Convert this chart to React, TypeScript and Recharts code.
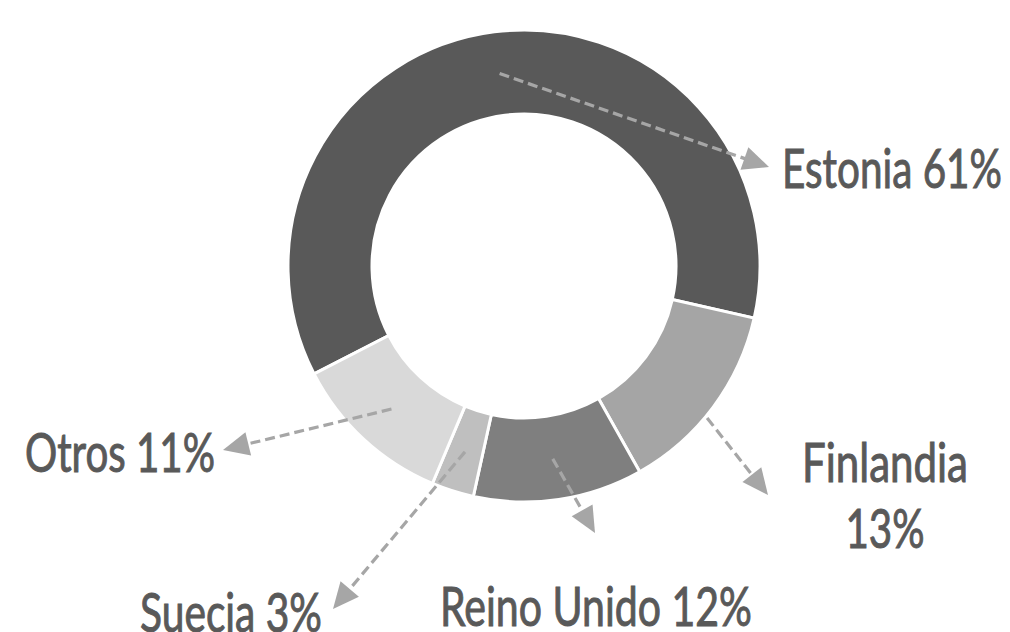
import React from "react"
import { PieChart, Pie, Cell } from "recharts"

// Países de destino y su peso (%)
const countries = ["Estonia", "Finlandia", "Reino Unido", "Suecia", "Otros"]
const shares = [61.1, 13.3, 11.6, 2.9, 11.1]
const shades = ["#595959", "#a5a5a5", "#7f7f7f", "#bfbfbf", "#d9d9d9"]

// Posición de cada etiqueta respecto al centro del anillo (y ancho del texto)
const labelLayout = [
  { startR: 194, shift: 0, tip: [245, -99], text: [258, -78], anchor: "start", widths: [220] },
  { startR: 238, shift: -3, tip: [244, 229], text: [361, 216], anchor: "middle", widths: [166, 79] },
  { startR: 195, shift: 0, tip: [71, 267], text: [-84, 360], anchor: "start", widths: [312] },
  { startR: 195, shift: 0, tip: [-191, 343], text: [-384, 366], anchor: "start", widths: [182] },
  { startR: 195, shift: 0, tip: [-301, 184], text: [-499, 206], anchor: "start", widths: [190] },
]

const data = countries.map((name, i) => ({ name, value: shares[i] }))

const RAD = Math.PI / 180
const LINE = "#a6a6a6"
const INK = "#595959"
const FONT = "Lato, 'Open Sans', sans-serif"

function ArrowLabel(props: any) {
  const { cx, cy, midAngle, index, name, value } = props
  const cfg = labelLayout[index]
  const a = (midAngle + cfg.shift) * RAD
  const x0 = cx + cfg.startR * Math.cos(a)
  const y0 = cy - cfg.startR * Math.sin(a)
  const tx = cx + cfg.tip[0]
  const ty = cy + cfg.tip[1]
  const len = Math.hypot(tx - x0, ty - y0)
  const ux = (tx - x0) / len
  const uy = (ty - y0) / len
  const head = 26
  const half = 12
  const bx = tx - ux * head
  const by = ty - uy * head
  const pts = `${tx},${ty} ${bx - uy * half},${by + ux * half} ${bx + uy * half},${by - ux * half}`
  const pct = `${Math.round(value)}%`
  const lx = cx + cfg.text[0]
  const ly = cy + cfg.text[1]
  const lines = cfg.widths.length > 1 ? [name, pct] : [`${name} ${pct}`]

  return (
    <g>
      <line x1={x0} y1={y0} x2={bx + ux * 2} y2={by + uy * 2} stroke={LINE} strokeWidth={3.2} strokeDasharray="10 5" />
      <polygon points={pts} fill={LINE} />
      <text
        textAnchor={cfg.anchor}
        fill={INK}
        stroke={INK}
        strokeWidth={1}
        fontFamily={FONT}
        fontSize={54}
      >
        {lines.map((t, k) => (
          <tspan
            key={k}
            x={lx}
            y={ly + k * 66}
            textLength={cfg.widths[k]}
            lengthAdjust="spacingAndGlyphs"
          >
            {t}
          </tspan>
        ))}
      </text>
    </g>
  )
}

export default function App() {
  return (
    <div style={{ position: "absolute", top: 0, left: 0, width: 1010, height: 632, background: "#fff" }}>
      <PieChart width={1010} height={632} margin={{ top: 0, right: 0, bottom: 0, left: 0 }}>
        <Pie
          data={data}
          dataKey="value"
          nameKey="name"
          cx={524}
          cy={266}
          innerRadius={152}
          outerRadius={236}
          startAngle={207.2}
          endAngle={-152.8}
          stroke="#fff"
          strokeWidth={3}
          label={ArrowLabel}
          labelLine={false}
          isAnimationActive={false}
        >
          {data.map((d, i) => (
            <Cell key={d.name} fill={shades[i]} />
          ))}
        </Pie>
      </PieChart>
    </div>
  )
}
